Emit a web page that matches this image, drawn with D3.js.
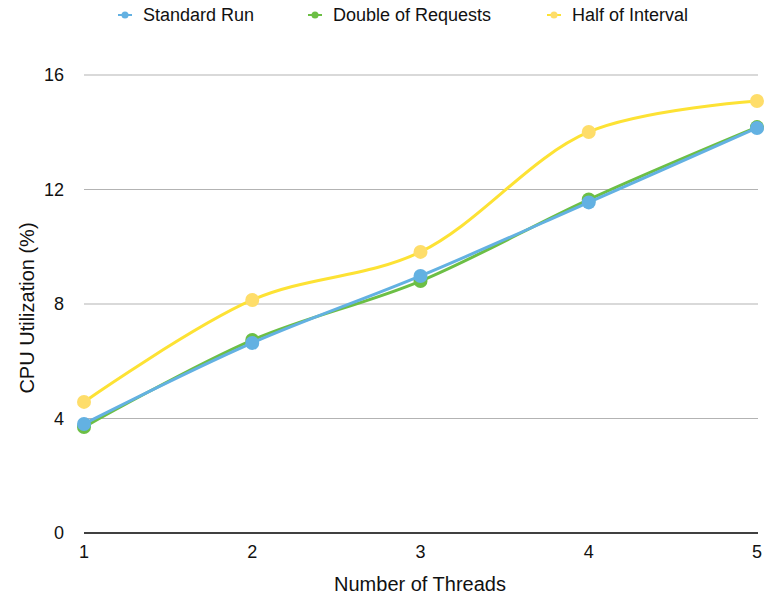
<!DOCTYPE html>
<html>
<head>
<meta charset="utf-8">
<script src="https://cdn.jsdelivr.net/npm/d3@7"></script>
<style>
  body { margin: 0; background: #fff; }
  text { font-family: "Liberation Sans", Arial, sans-serif; fill: #111; }
</style>
</head>
<body>
<svg id="chart" width="765" height="599"></svg>
<script>
// ── Data ──────────────────────────────────────────────────────────────────────
const threads     = [1, 2, 3, 4, 5];
const standardRun = [3.81, 6.64, 8.98, 11.55, 14.15];
const doubleReq   = [3.70, 6.74, 8.80, 11.65, 14.18];
const halfInt     = [4.58, 8.14, 9.82, 14.01, 15.09];
const yTicks      = [0, 4, 8, 12, 16];

const series = [
  { name: "Standard Run",       values: standardRun, line: "#63b1e2", dot: "#63b1e2" },
  { name: "Double of Requests", values: doubleReq,   line: "#6cbf45", dot: "#6cbf45" },
  { name: "Half of Interval",   values: halfInt,     line: "#fde234", dot: "#fedd6a" }
];
// draw order: half on bottom, then double, then standard on top
const drawOrder = [2, 1, 0];

// ── Layout ────────────────────────────────────────────────────────────────────
const svg = d3.select("#chart");
const x = d3.scaleLinear().domain([1, 5]).range([84, 757]);
const y = d3.scaleLinear().domain([0, 16]).range([533, 75]);

// gridlines
svg.append("g")
  .selectAll("line").data(yTicks.filter(t => t > 0)).join("line")
  .attr("x1", 84).attr("x2", 758)
  .attr("y1", d => y(d)).attr("y2", d => y(d))
  .attr("stroke", "#b3b3b3").attr("stroke-width", 1);

// baseline
svg.append("line")
  .attr("x1", 84).attr("x2", 758)
  .attr("y1", y(0)).attr("y2", y(0))
  .attr("stroke", "#000").attr("stroke-width", 1.3);

// y tick labels
svg.append("g")
  .selectAll("text").data(yTicks).join("text")
  .attr("x", 64).attr("y", d => y(d))
  .attr("dy", "0.35em")
  .attr("text-anchor", "end")
  .style("font-size", "18px")
  .text(d => d);

// x tick labels
svg.append("g")
  .selectAll("text").data(threads).join("text")
  .attr("x", d => x(d)).attr("y", 558)
  .attr("text-anchor", "middle")
  .style("font-size", "18px")
  .text(d => d);

// axis titles
svg.append("text")
  .attr("x", 420).attr("y", 591)
  .attr("text-anchor", "middle")
  .style("font-size", "20px")
  .text("Number of Threads");

svg.append("text")
  .attr("transform", "translate(34,308) rotate(-90)")
  .attr("text-anchor", "middle")
  .style("font-size", "20px")
  .text("CPU Utilization (%)");

// ── Series ────────────────────────────────────────────────────────────────────
const line = d3.line()
  .x((d, i) => x(threads[i]))
  .y(d => y(d))
  .curve(d3.curveCatmullRom.alpha(0.5));

drawOrder.forEach(si => {
  const s = series[si];
  const g = svg.append("g");
  g.append("path")
    .attr("d", line(s.values))
    .attr("fill", "none")
    .attr("stroke", s.line)
    .attr("stroke-width", 3);
  g.selectAll("circle").data(s.values).join("circle")
    .attr("cx", (d, i) => x(threads[i]))
    .attr("cy", d => y(d))
    .attr("r", 7)
    .attr("fill", s.dot);
});

// ── Legend ────────────────────────────────────────────────────────────────────
const legendX = [125, 315, 554];
const legend = svg.append("g")
  .selectAll("g").data(series).join("g")
  .attr("transform", (d, i) => `translate(${legendX[i]},15)`);

legend.append("line")
  .attr("x1", -7).attr("x2", 7)
  .attr("stroke", d => d.line).attr("stroke-width", 2);
legend.append("circle")
  .attr("r", 3.5).attr("fill", d => d.dot);
legend.append("text")
  .attr("x", 18).attr("dy", "0.35em")
  .style("font-size", "18px")
  .text(d => d.name);
</script>
</body>
</html>
